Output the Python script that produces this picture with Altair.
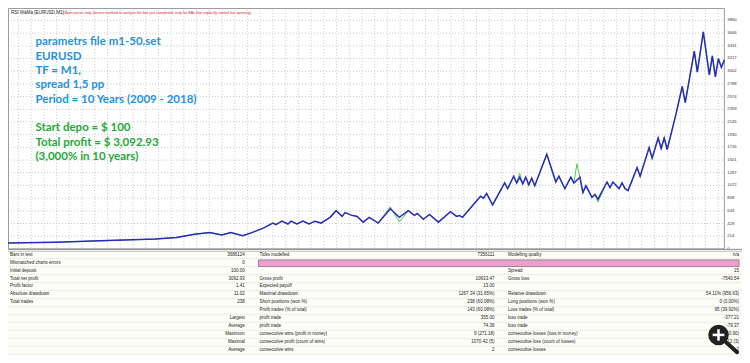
import altair as alt
import pandas as pd
import numpy as np

# ---------------- data ----------------
trades = [0, 16, 33, 49, 56, 62, 67, 71, 74, 78, 81, 85, 88, 89, 91, 93, 94, 96, 98, 100,
          102, 104, 107, 109, 111, 112, 114, 116, 118, 120, 123, 127, 130, 133, 135, 136,
          138, 140, 143, 147, 149, 150, 151, 157, 158, 159, 161, 165, 166, 168, 169, 170,
          171, 172, 173, 174, 175, 179, 182, 183, 185, 187, 188, 190, 191, 192, 194, 195,
          196, 199, 200, 201, 203, 204, 205, 206, 209, 210, 213, 214, 216, 217, 218, 219,
          222, 224, 225, 228, 229, 231, 233, 234, 235, 236, 237, 238]
balance = [100, 113, 140, 166, 194, 247, 275, 237, 275, 221, 275, 355, 436, 409, 468, 420,
           468, 420, 468, 420, 468, 436, 533, 646, 549, 614, 570, 549, 452, 533, 436, 678,
           533, 646, 565, 598, 501, 581, 452, 630, 549, 565, 533, 888, 856, 937, 743, 1114,
           1017, 1227, 1114, 1211, 1098, 1211, 1082, 1195, 1066, 1599, 1130, 1227, 1017,
           1211, 1114, 1211, 953, 1066, 872, 920, 840, 1130, 1034, 1130, 1017, 1114, 1017,
           985, 1373, 1227, 1712, 1534, 1873, 1696, 1873, 1680, 2293, 2746, 2471, 3343,
           2988, 3666, 2939, 3262, 2907, 3214, 3068, 3193]
# equity differs from balance only at a few spikes
eq_spike_trades = [127, 130, 170, 189, 191, 196, 218]
eq_spike_values = [711, 452, 1276, 1437, 940, 791, 1890]

y_tick_labels = ["0", "214", "429", "643", "858", "1072", "1287", "1501", "1716", "1930",
                 "2145", "2359", "2574", "2788", "3002", "3217", "3431", "3646", "3860"]

note_lines = ["parametrs file m1-50.set", "EURUSD", "TF = M1,", "spread 1,5 pp",
              "Period = 10 Years (2009 - 2018)", "",
              "\u00a0Start depo = $ 100", "Total profit = $ 3,092.93", "(3,000% in 10 years)"]
note_groups = ["blue"] * 6 + ["green"] * 3

title_black = "RSI WaMa [EURUSD,M1] /"
title_red = "Open prices only (fastest method to analyze the bar just completed, only for EAs that explicitly control bar opening)"

lbl1 = ["Bars in test", "Mismatched charts errors", "Initial deposit", "Total net profit",
        "Profit factor", "Absolute drawdown", "Total trades", "", "", "", "", "", ""]
val1 = ["3686124", "0", "100.00", "3092.93", "1.41", "11.02", "238", "",
        "Largest", "Average", "Maximum", "Maximal", "Average"]
lbl2 = ["Ticks modelled", "", "", "Gross profit", "Expected payoff", "Maximal drawdown",
        "Short positions (won %)", "Profit trades (% of total)", "profit trade", "profit trade",
        "consecutive wins (profit in money)", "consecutive profit (count of wins)",
        "consecutive wins"]
val2 = ["7356111", "", "", "10633.47", "13.00", "1267.34 (31.65%)", "238 (60.08%)",
        "143 (60.08%)", "355.00", "74.36", "9 (271.18)", "1070.42 (5)", "2"]
lbl3 = ["Modelling quality", "", "Spread", "Gross loss", "", "Relative drawdown",
        "Long positions (won %)", "Loss trades (% of total)", "loss trade", "loss trade",
        "consecutive losses (loss in money)", "consecutive loss (count of losses)",
        "consecutive losses"]
val3 = ["n/a", "", "15", "-7540.54", "", "54.11% (956.63)", "0 (0.00%)", "95 (39.92%)",
        "-377.21", "-79.37", "5 (-250.90)", "-312.12 (3)", "2"]

# ---------------- layout helpers ----------------
W, H = 734, 347
SX, SY = W / 750.0, H / 363.0
def px(x): return x * SX
def py(y): return y * SY

BLUE_NOTE = "#1f93dc"
GREEN_NOTE = "#25a83a"
LINE_BLUE = "#2b2bbb"
EQ_GREEN = "#4cd04c"
GRID = "#bdbdbd"
FONT = "Liberation Sans"

one = pd.DataFrame({"a": [0]})

bal_df = pd.DataFrame({"trade": trades, "value": balance})
eq_map = dict(zip(trades, balance))
eq_map.update(dict(zip(eq_spike_trades, eq_spike_values)))
eq_df = pd.DataFrame({"trade": sorted(eq_map), "value": [eq_map[k] for k in sorted(eq_map)]})

xs = alt.Scale(domain=[0, 238], range=[px(0), px(732)], nice=False, zero=False)
ys = alt.Scale(domain=[0, 3860], range=[py(252), py(13)], nice=False, zero=False)

tick_df = pd.DataFrame({"v": [float(t) for t in y_tick_labels], "lab": y_tick_labels})
vgrid = pd.DataFrame({"g": np.arange(10.7, 731, 13.0) * 238 / 732})

layers = []
# vertical grid
layers.append(alt.Chart(vgrid).mark_rule(color=GRID, strokeDash=[1, 2], strokeWidth=0.8).encode(
    x=alt.X("g:Q", scale=xs, axis=None), y=alt.value(py(2)), y2=alt.value(py(252))))
# horizontal grid
layers.append(alt.Chart(tick_df).mark_rule(color=GRID, strokeDash=[1, 2], strokeWidth=0.8).encode(
    y=alt.Y("v:Q", scale=ys, axis=None), x=alt.value(px(0)), x2=alt.value(px(732))))
# frame of the plot
layers.append(alt.Chart(one).mark_rect(fill=None, stroke="#9a9a9a", strokeWidth=1).encode(
    x=alt.value(px(0.5)), x2=alt.value(px(732)), y=alt.value(py(0.5)), y2=alt.value(py(252))))
# equity & balance
layers.append(alt.Chart(eq_df).mark_line(color=EQ_GREEN, strokeWidth=1).encode(
    x=alt.X("trade:Q", scale=xs, axis=None), y=alt.Y("value:Q", scale=ys, axis=None)))
layers.append(alt.Chart(bal_df).mark_line(color=LINE_BLUE, strokeWidth=1.5).encode(
    x=alt.X("trade:Q", scale=xs, axis=None), y=alt.Y("value:Q", scale=ys, axis=None)))
# right axis labels
layers.append(alt.Chart(tick_df).mark_text(align="left", baseline="middle", fontSize=4.2,
                                           font=FONT, color="#333333").encode(
    y=alt.Y("v:Q", scale=ys, axis=None), x=alt.value(px(735)), text="lab:N"))
# title bar
layers.append(alt.Chart(one).mark_text(align="left", baseline="middle", fontSize=4.6, font=FONT,
                                       color="#222222", text=title_black).encode(
    x=alt.value(px(3)), y=alt.value(py(5))))
layers.append(alt.Chart(one).mark_text(align="left", baseline="middle", fontSize=3.7, font=FONT,
                                       color="#e0202a", text=title_red).encode(
    x=alt.value(px(57)), y=alt.value(py(5))))
# annotation
note_df = pd.DataFrame({"t": note_lines, "i": list(range(len(note_lines))), "g": note_groups})
layers.append(alt.Chart(note_df).mark_text(align="left", baseline="middle", fontSize=11.5,
                                           font="Lato", fontWeight="bold").encode(
    x=alt.value(px(28)),
    y=alt.Y("i:Q", scale=alt.Scale(domain=[0, 8], range=[py(36), py(156)], nice=False, zero=False), axis=None),
    text="t:N",
    color=alt.Color("g:N", scale=alt.Scale(domain=["blue", "green"], range=[BLUE_NOTE, GREEN_NOTE]), legend=None)))

# ---------------- table ----------------
ROW0, ROWSTEP = 258.0, 8.33
rows = list(range(13))
tbl = pd.DataFrame({"row": rows, "l1": lbl1, "v1": val1, "l2": lbl2, "v2": val2,
                    "l3": lbl3, "v3": val3})
rs = alt.Scale(domain=[0, 12], range=[py(ROW0), py(ROW0 + 12 * ROWSTEP)], nice=False, zero=False)
sep_df = pd.DataFrame({"row": [r + 0.5 for r in rows]})
# table background
layers.append(alt.Chart(one).mark_rect(fill="#fdfdf7").encode(
    x=alt.value(px(0)), x2=alt.value(px(750)), y=alt.value(py(253)), y2=alt.value(py(363))))
layers.append(alt.Chart(sep_df).mark_rule(color="#c8c8c8", strokeDash=[1, 1], strokeWidth=0.6).encode(
    y=alt.Y("row:Q", scale=rs, axis=None), x=alt.value(px(0)), x2=alt.value(px(750))))
# double line under plot
layers.append(alt.Chart(one).mark_rule(color="#8c8c8c", strokeWidth=1).encode(
    x=alt.value(px(0)), x2=alt.value(px(750)), y=alt.value(py(252.5))))
layers.append(alt.Chart(one).mark_rule(color="#b0b0b0", strokeWidth=0.8).encode(
    x=alt.value(px(0)), x2=alt.value(px(750)), y=alt.value(py(254.5))))
# pink modelling bar
layers.append(alt.Chart(one).mark_rect(fill="#e7a2c9", stroke="#8a5a8a", strokeWidth=0.7).encode(
    x=alt.value(px(256)), x2=alt.value(px(747)), y=alt.value(py(263.5)), y2=alt.value(py(270.5))))
for field, xpos, al in [("l1", 2, "left"), ("v1", 242, "right"), ("l2", 257, "left"),
                        ("v2", 497, "right"), ("l3", 511, "left"), ("v3", 747, "right")]:
    layers.append(alt.Chart(tbl).mark_text(align=al, baseline="middle", fontSize=4.5, font=FONT,
                                           color="#1a1a1a").encode(
        y=alt.Y("row:Q", scale=rs, axis=None), x=alt.value(px(xpos)), text=f"{field}:N"))

# magnifier icon overlay (drawn with shapes, not text)
layers.append(alt.Chart(one).mark_rule(color="#222222", strokeWidth=4, strokeCap="round").encode(
    x=alt.value(px(734)), y=alt.value(py(350)), x2=alt.value(px(745)), y2=alt.value(py(360))))
layers.append(alt.Chart(one).mark_point(shape="circle", size=420, filled=True, color="#222222",
                                        opacity=1).encode(
    x=alt.value(px(726)), y=alt.value(py(342))))
layers.append(alt.Chart(one).mark_rule(color="white", strokeWidth=2.5).encode(
    x=alt.value(px(720)), x2=alt.value(px(732)), y=alt.value(py(342))))
layers.append(alt.Chart(one).mark_rule(color="white", strokeWidth=2.5).encode(
    x=alt.value(px(726)), y=alt.value(py(336)), y2=alt.value(py(348))))

chart = alt.layer(*layers).resolve_scale(x="independent", y="independent", color="independent").properties(
    width=W, height=H, padding=0, autosize=alt.AutoSizeParams(type="none"), background="white"
).configure_view(stroke=None)

chart.save("out.html", embed_options={"renderer": "svg", "actions": False})
